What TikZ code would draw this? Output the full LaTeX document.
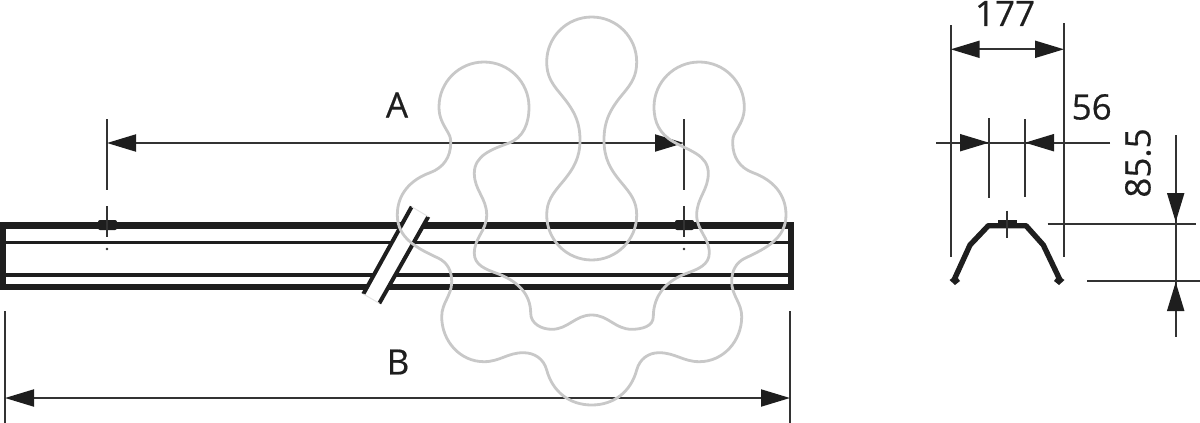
\documentclass[tikz,border=0pt]{standalone}
\usepackage{fontspec}
\newfontfamily\dimfont[FakeBold=0.5]{Open Sans}
\usetikzlibrary{arrows.meta}
\definecolor{inkdark}{HTML}{1E1E1E}
\definecolor{inkline}{HTML}{333333}
\definecolor{blobgray}{HTML}{C8C8C8}
\tikzset{
  dimline/.style={draw=inkline, line width=2pt},
  dimarrow/.style={dimline, {Triangle[length=29pt,width=17pt,color=inkdark]}-{Triangle[length=29pt,width=17pt,color=inkdark]}},
  dimtip/.style={dimline, -{Triangle[length=29pt,width=17pt,color=inkdark]}},
  dimlabel/.style={font=\dimfont\fontsize{35}{35}\selectfont, text=inkdark, inner sep=0pt},
  barband/.style={draw=inkdark, line width=6.6pt},
  barline/.style={draw=inkdark, line width=3.2pt},
  blobline/.style={draw=blobgray, line width=2.8pt},
}
\begin{document}
\begin{tikzpicture}[x=1pt,y=-1pt]
  \useasboundingbox (0,0) rectangle (1200,423);
  % Side view bar
  \draw[barband, fill=none, miter limit=10] (3,225.7) -- (791,225.7) -- (791,287) -- (3,287) -- cycle;
  \draw[barline] (5,242.7) -- (790,242.7);
  \draw[barline] (5,275) -- (790,275);
  % Break in the bar
  \fill[white] (411.7,206.7) -- (428.3,216.7) -- (379.3,303.3) -- (363.3,294) -- cycle;
  \draw[draw=inkdark, line width=4pt] (411.7,206.7) -- (363.3,294);
  \draw[draw=inkdark, line width=4pt] (428.3,216.7) -- (379.3,303.3);
  \draw[draw=blobgray!50, line width=1pt] (411.7,206.7) -- (428.3,216.7);
  \draw[draw=blobgray!50, line width=1pt] (363.3,294) -- (379.3,303.3);
  % Fixing points
  \foreach \fx/\fname in {107/fixa, 684/fixb} {
    \fill[inkdark, rounded corners=2pt] (\fx-9,220) rectangle (\fx+10,230);
    \draw[dimline] (\fx,119) -- (\fx,190);
    \draw[dimline] (\fx,206) -- (\fx,237);
    \fill[inkline] (\fx,249) circle (1.3);
    \coordinate (\fname) at (\fx,143);
  }
  % Dimension A
  \draw[dimarrow] (fixa) -- (fixb);
  \node[dimlabel] (labA) at (397,105) {A};
  % Dimension B
  \coordinate (bleft) at (5,398);
  \coordinate (bright) at (790,398);
  \draw[dimline] (5,311) -- (5,423);
  \draw[dimline] (790,311) -- (790,423);
  \draw[dimarrow] (bleft) -- (bright);
  \node[dimlabel] (labB) at (398,362) {B};
  % End view
  \draw[dimline] (950.7,25) -- (950.7,257);
  \draw[dimline] (1064,23) -- (1064,257);
  \draw[dimline] (989,118) -- (989,198);
  \draw[dimline] (1025,119) -- (1025,197);
  \draw[draw=inkdark, line width=5.4pt, line join=round] (954,280) -- (970,245) -- (988.3,225.7) -- (1026,225.7) -- (1043.3,245) -- (1060,280);
  \fill[inkdark] (949.5,280) -- (956,275.5) -- (960,281) -- (955,285) -- cycle;
  \fill[inkdark] (1064.5,280) -- (1058,275.5) -- (1054,281) -- (1059,285) -- cycle;
  \fill[inkdark] (998.3,220) rectangle (1016.7,226);
  \draw[dimline] (1006.7,210.7) -- (1006.7,238);
  % Dimension 177
  \coordinate (wleft) at (950.7,49.3);
  \coordinate (wright) at (1064,49.3);
  \draw[dimarrow] (wleft) -- (wright);
  \node[dimlabel] (lab177) at (1005,13.5) {177};
  % Dimension 56
  \coordinate (sleft) at (936,142.7);
  \coordinate (sright) at (1110,142.7);
  \coordinate (stipa) at (989,142.7);
  \coordinate (stipb) at (1025,142.7);
  \draw[dimline] (sleft) -- (sright);
  \draw[dimtip] (sleft) -- (stipa);
  \draw[dimtip] (sright) -- (stipb);
  \node[dimlabel] (lab56) at (1091.7,107) {56};
  % Dimension 85.5
  \draw[dimline] (1047.7,224.3) -- (1196,224.3);
  \draw[dimline] (1087,280.7) -- (1200,280.7);
  \coordinate (htop) at (1175.7,135);
  \coordinate (hbot) at (1175.7,336.7);
  \coordinate (htipa) at (1175.7,222);
  \coordinate (htipb) at (1175.7,282);
  \draw[dimline] (htop) -- (hbot);
  \draw[dimtip] (htop) -- (htipa);
  \draw[dimtip] (hbot) -- (htipb);
  \node[dimlabel, rotate=90] (lab855) at (1138,163) {85.5};
  % Gray outline on top, middle part
  \draw[blobline] (591.7,17) to[out=180,in=90] (546.7,62) to[out=270,in=130] (560,93.3)
    to[out=310,in=90] (580,140) to[out=270,in=50] (561.7,183) to[out=230,in=90] (546.7,215)
    to[out=270,in=180] (591.7,260) to[out=0,in=270] (636.7,215) to[out=90,in=310] (621.7,183)
    to[out=130,in=270] (604,140) to[out=90,in=230] (623.4,93.3) to[out=50,in=270] (636.7,62)
    to[out=90,in=0] (591.7,17) -- cycle;
  % Gray outline on top, outer part
  \draw[blobline] (484,62) to[out=180,in=90] (439,107) to[out=270,in=120] (448.3,133)
    to[out=300,in=90] (450.7,143) to[out=270,in=20] (430,172.7) to[out=200,in=90] (397.3,215)
    to[out=270,in=155] (438,258) to[out=335,in=90] (451.7,281.7) to[out=270,in=90] (441.7,316.7)
    to[out=270,in=180] (484,361.7) to[out=0,in=180] (523.3,352.7) to[out=0,in=105] (546.7,370)
    to[out=285,in=180] (591.7,405) to[out=0,in=255] (636.7,370) to[out=75,in=180] (659,352.7)
    to[out=0,in=180] (699.3,361.7) to[out=0,in=270] (741.7,316.7) to[out=90,in=270] (731.7,281.7)
    to[out=90,in=205] (745.4,258) to[out=25,in=270] (786,215) to[out=90,in=340] (753,172.7)
    to[out=160,in=270] (732.7,143) to[out=90,in=240] (735,133) to[out=60,in=270] (744.3,107)
    to[out=90,in=0] (699.3,62) to[out=180,in=90] (654,107) to[out=270,in=150] (673.3,141.7)
    to[out=330,in=90] (708.3,173.3) to[out=270,in=90] (696.7,215) to[out=270,in=90] (709.3,253)
    to[out=270,in=20] (686.7,273.3) to[out=200,in=90] (653.3,316.7) to[out=270,in=0] (631.7,329.3)
    to[out=180,in=0] (591.7,315) to[out=180,in=0] (551.7,329.3) to[out=180,in=270] (530.7,313.3)
    to[out=90,in=340] (496.7,273.3) to[out=160,in=270] (474.3,253.3) to[out=90,in=270] (486.7,215)
    to[out=90,in=270] (474.3,173.3) to[out=90,in=200] (508.3,143.3) to[out=20,in=270] (529,107)
    to[out=90,in=0] (484,62) -- cycle;
\end{tikzpicture}
\end{document}
